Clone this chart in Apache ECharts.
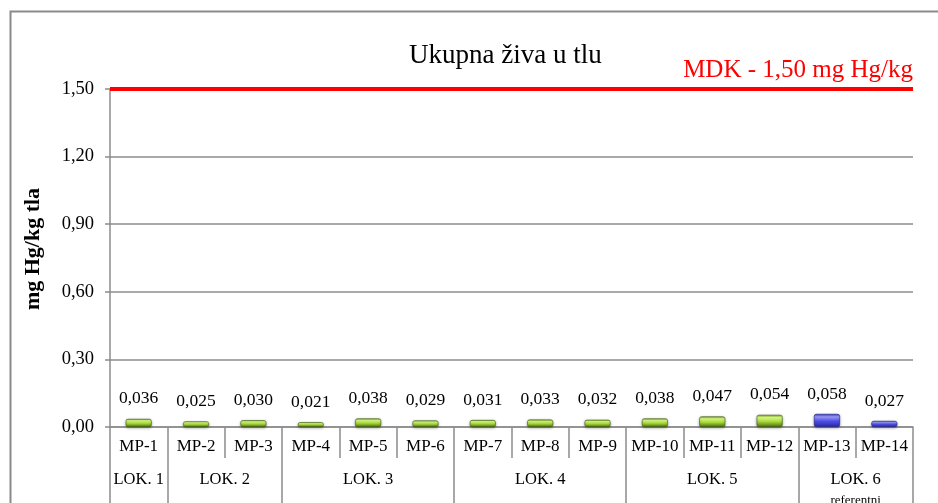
<!DOCTYPE html>
<html>
<head>
<meta charset="utf-8">
<script src="https://cdn.jsdelivr.net/npm/echarts@6/dist/echarts.min.js"></script>
<style>
  html, body { margin: 0; padding: 0; background: #fff; }
  #chart { width: 938px; height: 503px; }
</style>
</head>
<body>
<div id="chart"></div>
<script>
// Sampling points and total mercury content (mg Hg/kg soil)
const points = ['MP-1','MP-2','MP-3','MP-4','MP-5','MP-6','MP-7','MP-8','MP-9','MP-10','MP-11','MP-12','MP-13','MP-14'];
const mercury = [0.036, 0.025, 0.030, 0.021, 0.038, 0.029, 0.031, 0.033, 0.032, 0.038, 0.047, 0.054, 0.058, 0.027];

// Locations and how many sampling points each one groups
const locations = ['LOK. 1', 'LOK. 2', 'LOK. 3', 'LOK. 4', 'LOK. 5', 'LOK. 6'];
const locationSizes = [1, 2, 3, 3, 3, 2];
const referenceLocation = 'LOK. 6';

// Y axis ticks and the permitted limit
const yTicks = [0, 0.30, 0.60, 0.90, 1.20, 1.50];
const limitValue = 1.50;
const limitLabel = 'MDK - 1,50 mg Hg/kg';

const FONT = '"Liberation Serif", "Times New Roman", serif';
const GRID = '#8c8c8c';

// Half-step slots for the location row: boundaries and centres
const slotCount = points.length * 2 + 1;
const slotLabels = new Array(slotCount).fill('');
const boundarySlots = [0];
const centreSlots = [];
const pointLocation = [];
let acc = 0;
locations.forEach((loc, i) => {
  const n = locationSizes[i];
  centreSlots.push(acc * 2 + n);
  slotLabels[acc * 2 + n] = loc === referenceLocation ? loc + '\n{ref|referentni}' : loc;
  for (let k = 0; k < n; k++) pointLocation.push(loc);
  acc += n;
  boundarySlots.push(acc * 2);
});

const greenFill = new echarts.graphic.LinearGradient(0, 0, 0, 1, [
  { offset: 0, color: '#7ea41f' },
  { offset: 0.22, color: '#d9fb84' },
  { offset: 0.55, color: '#a6da3a' },
  { offset: 1, color: '#4c6e0e' }
]);
const blueFill = new echarts.graphic.LinearGradient(0, 0, 0, 1, [
  { offset: 0, color: '#3c3cc8' },
  { offset: 0.22, color: '#9a9af7' },
  { offset: 0.55, color: '#4e4ee8' },
  { offset: 1, color: '#2a2aa0' }
]);

const barData = mercury.map((v, i) => ({
  value: v,
  itemStyle: {
    color: pointLocation[i] === referenceLocation ? blueFill : greenFill,
    borderColor: pointLocation[i] === referenceLocation ? '#22228a' : '#3f5c0b',
    borderWidth: 0.6,
    borderRadius: 2,
    shadowColor: 'rgba(0,0,0,0.35)',
    shadowBlur: 3,
    shadowOffsetY: 1
  }
}));

const chart = echarts.init(document.getElementById('chart'), null, { renderer: 'canvas' });

chart.setOption({
  animation: false,
  backgroundColor: '#fff',
  textStyle: { fontFamily: FONT },
  title: {
    text: 'Ukupna živa u tlu',
    left: 404,
    top: 37,
    textStyle: { fontFamily: FONT, fontSize: 27, fontWeight: 'normal', color: '#000' }
  },
  graphic: [
    {
      type: 'rect',
      shape: { x: 10.5, y: 11.5, width: 1000, height: 600 },
      style: { fill: 'none', stroke: '#8a8a8a', lineWidth: 2 },
      silent: true
    },
    {
      type: 'text',
      x: 33, y: 249,
      rotation: Math.PI / 2,
      style: {
        text: 'mg Hg/kg tla',
        font: 'bold 22px ' + FONT,
        fill: '#000',
        align: 'center',
        verticalAlign: 'middle'
      }
    }
  ],
  grid: { left: 110, top: 89, width: 803, height: 338, outerBoundsMode: 'none', containLabel: false },
  xAxis: [
    {
      type: 'category',
      data: points,
      position: 'bottom',
      axisLine: { show: true, lineStyle: { color: GRID, width: 1.5 } },
      axisTick: { show: true, interval: 0, length: 31, lineStyle: { color: GRID, width: 1.5 } },
      axisLabel: { interval: 0, margin: 11, fontFamily: FONT, fontSize: 17, color: '#000' }
    },
    {
      type: 'category',
      data: slotLabels,
      position: 'bottom',
      boundaryGap: false,
      axisLine: { show: false },
      axisTick: {
        show: true,
        length: 90,
        interval: (i) => boundarySlots.includes(i),
        lineStyle: { color: GRID, width: 1.5 }
      },
      axisLabel: {
        interval: (i) => centreSlots.includes(i),
        margin: 43,
        fontFamily: FONT,
        fontSize: 16.5,
        color: '#000',
        lineHeight: 20,
        rich: { ref: { fontFamily: FONT, fontSize: 13, color: '#000', lineHeight: 22 } }
      },
      splitLine: { show: false }
    }
  ],
  yAxis: {
    type: 'value',
    min: yTicks[0],
    max: yTicks[yTicks.length - 1],
    interval: yTicks[1] - yTicks[0],
    axisLine: { show: true, lineStyle: { color: GRID, width: 1.5 } },
    axisTick: { show: true, length: 5, lineStyle: { color: GRID, width: 1.5 } },
    axisLabel: {
      margin: 16,
      fontFamily: FONT,
      fontSize: 18.5,
      color: '#000',
      formatter: (v) => v.toFixed(2).replace('.', ',')
    },
    splitLine: { show: true, lineStyle: { color: GRID, width: 1.5 } }
  },
  series: [
    {
      type: 'bar',
      xAxisIndex: 0,
      data: barData,
      barWidth: 26,
      label: {
        show: true,
        position: 'top',
        distance: 11,
        fontFamily: FONT,
        fontSize: 17.5,
        color: '#000',
        formatter: (p) => p.value.toFixed(3).replace('.', ',')
      },
      markLine: {
        silent: true,
        symbol: 'none',
        animation: false,
        lineStyle: { color: '#ff0000', width: 4, type: 'solid' },
        label: {
          show: true,
          position: 'insideEndTop',
          distance: [0, 6],
          formatter: limitLabel,
          fontFamily: FONT,
          fontSize: 25,
          color: '#ff0000'
        },
        data: [{ yAxis: limitValue }]
      }
    }
  ]
});
</script>
</body>
</html>
